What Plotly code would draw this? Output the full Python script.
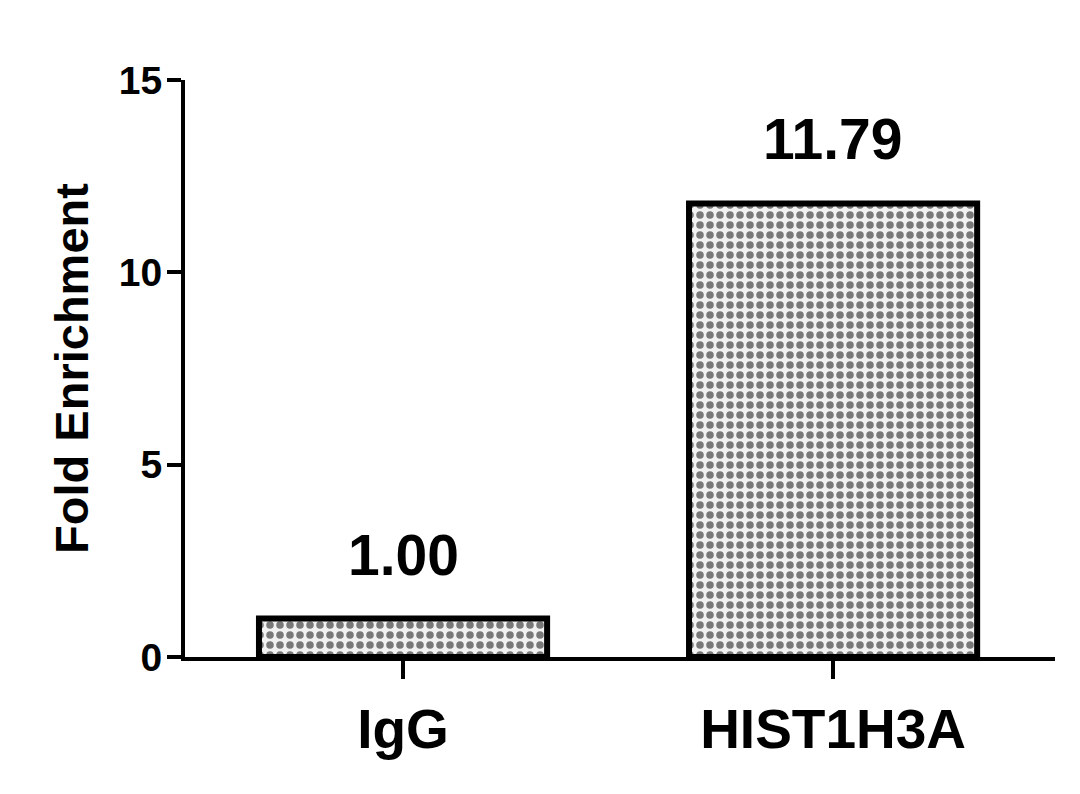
import plotly.graph_objects as go

categories = ["IgG", "HIST1H3A"]
fold_enrichment = [1.00, 11.79]
value_labels = ["1.00", "11.79"]
y_ticks = [0, 5, 10, 15]

FONT = "Liberation Sans, Arial, sans-serif"

fig = go.Figure()
fig.add_trace(
    go.Bar(
        x=categories,
        y=fold_enrichment,
        width=0.67,
        marker=dict(
            color="white",
            line=dict(color="black", width=6),
            pattern=dict(shape=".", fgcolor="black", bgcolor="#f2f2f2",
                         size=10, solidity=0.45, fillmode="overlay"),
        ),
        showlegend=False,
    )
)

for cat, val, lab in zip(categories, fold_enrichment, value_labels):
    fig.add_annotation(
        x=cat, y=val, text=f"<b>{lab}</b>", showarrow=False,
        yanchor="bottom", yshift=30,
        font=dict(family=FONT, size=57, color="black"),
    )

# the page body adds an 8px offset, so the figure is sized to fit inside it
fig.update_layout(
    width=1072, height=786,
    paper_bgcolor="white", plot_bgcolor="white",
    margin=dict(l=177, r=25, t=72, b=137),
)
fig.update_xaxes(
    range=[-0.507, 1.516],
    showline=True, linecolor="black", linewidth=4,
    ticks="outside", ticklen=18, tickwidth=4, tickcolor="black",
    tickfont=dict(family=FONT, size=55, color="black"),
    ticklabelstandoff=3,
    tickvals=categories, ticktext=[f"<b>{c}</b>" for c in categories],
    showgrid=False, zeroline=False,
)
fig.update_yaxes(
    range=[0, 15],
    tickvals=y_ticks, ticktext=[f"<b>{t}</b>" for t in y_ticks],
    showline=True, linecolor="black", linewidth=4,
    ticks="outside", ticklen=14, tickwidth=4, tickcolor="black",
    tickfont=dict(family=FONT, size=39, color="black"),
    ticklabelstandoff=-3,
    title=dict(text="<b>Fold Enrichment</b>", font=dict(family=FONT, size=47, color="black"),
               standoff=16),
    showgrid=False, zeroline=False,
)

fig.write_html("out.html")
